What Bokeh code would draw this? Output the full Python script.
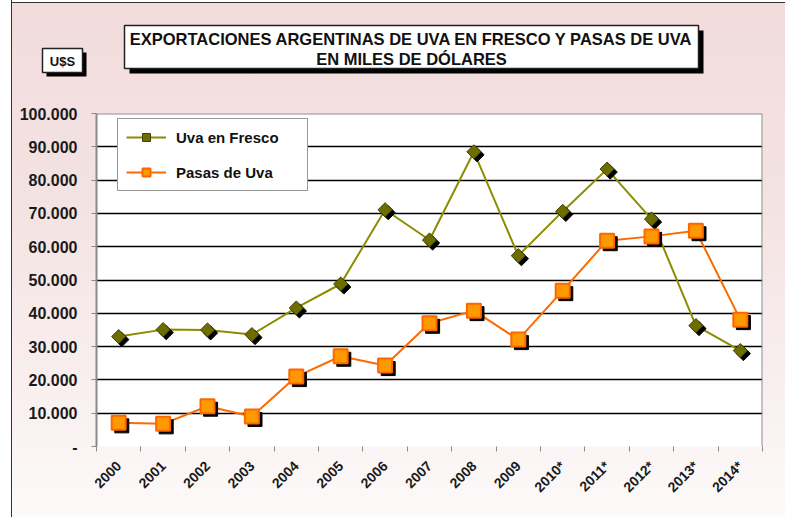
import math
from bokeh.plotting import figure
from bokeh.layouts import column
from bokeh.models import (Range1d, FixedTicker, Span, Legend, LegendItem,
                          ColumnDataSource)
from bokeh.core.properties import value
from bokeh.transform import dodge
from bokeh.embed import file_html
from bokeh.resources import INLINE

# ---------------- data ----------------
years = ["2000", "2001", "2002", "2003", "2004", "2005", "2006", "2007",
         "2008", "2009", "2010*", "2011*", "2012*", "2013*", "2014*"]
uva_fresco = [33000, 35100, 35000, 33600, 41600, 48800, 71100, 62000,
              88500, 57300, 70600, 83300, 68300, 36300, 28800]
pasas_uva = [7100, 6800, 12100, 9000, 21000, 27100, 24300, 37000,
             40800, 32100, 46800, 61800, 63100, 64800, 38100]
y_ticks = [0, 10000, 20000, 30000, 40000, 50000, 60000, 70000, 80000, 90000, 100000]
y_tick_labels = ["-", "10.000", "20.000", "30.000", "40.000", "50.000",
                 "60.000", "70.000", "80.000", "90.000", "100.000"]
title_lines = ["EXPORTACIONES ARGENTINAS DE UVA EN FRESCO Y PASAS DE UVA",
               "EN MILES DE DÓLARES"]
unit_label = "U$S"
series_names = ["Uva en Fresco", "Pasas de Uva"]

# ---------------- layout constants ----------------
W, H = 785, 517
HEAD = 100          # height of the header strip (title boxes)
FONT = "Liberation Sans"
n = len(years)
xc = [i + 0.5 for i in range(n)]

# ---------------- header (title box + unit box) ----------------
h = figure(width=W, height=HEAD, output_backend="svg", toolbar_location=None,
           x_range=Range1d(0, W), y_range=Range1d(HEAD, 0),
           x_axis_type=None, y_axis_type=None,
           min_border=0, min_border_left=0, min_border_right=0,
           min_border_top=0, min_border_bottom=0)
h.frame_align = False
h.grid.visible = False
h.outline_line_color = None
h.background_fill_alpha = 0
h.border_fill_alpha = 0

# shadows
h.quad(left=[129, 46], right=[703, 86], top=[30, 52], bottom=[73, 76],
       fill_color="black", line_color=None)
# boxes
h.quad(left=[124, 42], right=[698, 82], top=[25, 48], bottom=[68, 72],
       fill_color="white", line_color="#222222", line_width=1.5)
h.text(x=[411, 411], y=[38, 58], text=title_lines,
       text_align="center", text_baseline="middle",
       text_font=value(FONT), text_font_style="bold",
       text_font_size="16.5px", text_color="#111111")
h.text(x=[62], y=[60.5], text=[unit_label],
       text_align="center", text_baseline="middle",
       text_font=value(FONT), text_font_style="bold",
       text_font_size="13px", text_color="#111111")

# ---------------- main chart ----------------
p = figure(width=W, height=H - HEAD, output_backend="svg", toolbar_location=None,
           x_range=Range1d(0, n), y_range=Range1d(0, 100000),
           min_border_left=96, min_border_right=23, min_border_top=113 - HEAD,
           min_border_bottom=71)
p.frame_align = False
p.outline_line_color = None
p.background_fill_color = "white"
p.border_fill_alpha = 0

yax = p.yaxis[0]
yax.ticker = FixedTicker(ticks=y_ticks)
yax.major_label_overrides = {t: l for t, l in zip(y_ticks, y_tick_labels)}
yax.axis_line_color = "#8a8a8a"
yax.axis_line_width = 2
yax.major_tick_line_color = "#8a8a8a"
yax.major_tick_in = 0
yax.major_tick_out = 5
yax.minor_tick_line_color = None
yax.major_label_standoff = 14
yax.major_label_text_font = FONT
yax.major_label_text_font_style = "bold"
yax.major_label_text_font_size = "16px"
yax.major_label_text_color = "#1a1a1a"

xax = p.xaxis[0]
xax.ticker = FixedTicker(ticks=xc, minor_ticks=list(range(n + 1)))
xax.major_label_overrides = {x: y for x, y in zip(xc, years)}
xax.axis_line_color = None
xax.major_tick_line_color = None
xax.minor_tick_line_color = "#8a8a8a"
xax.minor_tick_in = 0
xax.minor_tick_out = 5
xax.major_label_orientation = math.pi / 4
xax.major_label_standoff = 11
xax.major_label_text_font = FONT
xax.major_label_text_font_style = "bold"
xax.major_label_text_font_size = "14px"
xax.major_label_text_color = "#1a1a1a"

p.xgrid.visible = False
p.ygrid.ticker = FixedTicker(ticks=y_ticks[1:-1])
p.ygrid.grid_line_color = "black"
p.ygrid.grid_line_width = 1.5

p.add_layout(Span(location=100000, dimension="width", line_color="#8a8a8a", line_width=2))
p.add_layout(Span(location=n, dimension="height", line_color="#8a8a8a", line_width=2))

src = ColumnDataSource(dict(x=xc, fresco=uva_fresco, pasas=pasas_uva))

l_f = p.line("x", "fresco", source=src, line_color="#8c8c00", line_width=2)
p.scatter(x=dodge("x", 0.07), y=dodge("fresco", -900), source=src,
          marker="square", angle=math.pi / 4, size=10,
          fill_color="black", line_color="black")
m_f = p.scatter("x", "fresco", source=src, marker="square", angle=math.pi / 4,
                size=10, fill_color="#6e6e00", line_color="#404000", line_width=1)

l_p = p.line("x", "pasas", source=src, line_color="#ff6a00", line_width=2)
p.scatter(x=dodge("x", 0.07), y=dodge("pasas", -900), source=src,
          marker="square", size=14, fill_color="black", line_color="black")
m_p = p.scatter("x", "pasas", source=src, marker="square", size=14,
                fill_color="#ff9900", line_color="#ff6600", line_width=2)

legend = Legend(items=[LegendItem(label=series_names[0], renderers=[l_f, m_f]),
                       LegendItem(label=series_names[1], renderers=[l_p, m_p])],
                location=(21, 255), padding=8, spacing=15, margin=0,
                glyph_width=40, glyph_height=20, label_height=20,
                label_standoff=10, label_width=123,
                label_text_font=FONT, label_text_font_style="bold",
                label_text_font_size="15px", label_text_color="#111111",
                border_line_color="#333333", border_line_width=1.5,
                background_fill_color="white", background_fill_alpha=1)
p.add_layout(legend, "center")

page = column(h, p, spacing=0)
page.styles = {
    "background-image": (
        "linear-gradient(to right, #ffffff 11px, #333333 11px, #333333 12px, transparent 12px),"
        "linear-gradient(to bottom, #ffffff 2px, #333333 2px, #333333 3px, transparent 3px),"
        "linear-gradient(to bottom, #f2dcdc 0%, #f4e3e3 40%, #f9efef 75%, #fdfafa 100%)"
    ),
}

open("out.html", "w").write(file_html(page, INLINE))
